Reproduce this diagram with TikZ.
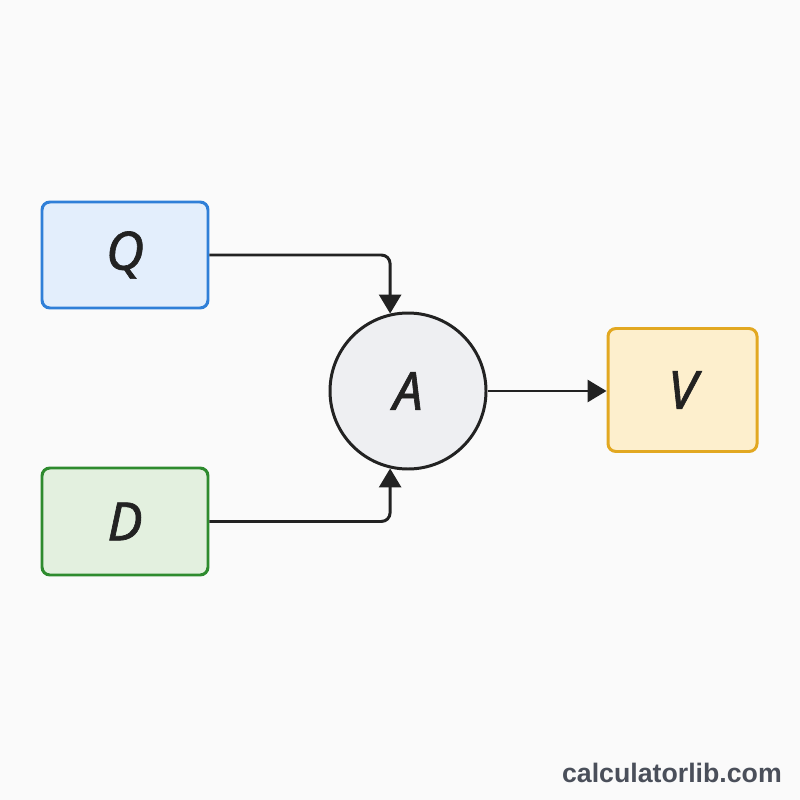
\documentclass[tikz,border=0pt]{standalone}
\usepackage{fontspec}
\setmainfont{Noto Sans}
\newfontfamily\letterfont{Noto Sans}[FakeBold=1.2]
\newfontfamily\markfont{Liberation Sans}
\usepackage{xcolor}
\usetikzlibrary{positioning,arrows.meta,calc}
\definecolor{PageBg}{HTML}{FAFAFA}
\definecolor{QueryBlue}{HTML}{2F7FD8}
\definecolor{QueryFill}{HTML}{E3EEFC}
\definecolor{DocGreen}{HTML}{2E8B2E}
\definecolor{DocFill}{HTML}{E3F0DF}
\definecolor{ValGold}{HTML}{E2A821}
\definecolor{ValFill}{HTML}{FDEFCD}
\definecolor{AttnFill}{HTML}{EEEFF2}
\definecolor{InkDark}{HTML}{222222}
\definecolor{MarkGray}{HTML}{4A4F5A}

\begin{document}
\begin{tikzpicture}[every node/.style={font=\letterfont\fontsize{30}{36}\selectfont\itshape, text=InkDark},
                    box/.style={rounded corners=4.5pt, line width=1.7pt, inner sep=0pt},
                    ar/.style={-{Triangle[length=0.38cm,width=0.44cm]}, line width=1.7pt, InkDark, rounded corners=5pt}]
  \fill[PageBg] (0,0) rectangle (16,-16);
  \useasboundingbox (0,0) rectangle (16,-16);
  \node[box, draw=QueryBlue, fill=QueryFill, minimum width=3.32cm, minimum height=2.12cm]
    (q) at (2.5,-5.1) {Q};
  \node[box, draw=DocGreen, fill=DocFill, minimum width=3.32cm, minimum height=2.14cm]
    (d) at (2.5,-10.43) {D};
  \node[circle, draw=InkDark, fill=AttnFill, line width=1.7pt, minimum size=3.12cm, inner sep=0pt]
    (a) at (8.16,-7.82) {A};
  \node[box, draw=ValGold, fill=ValFill, minimum width=2.98cm, minimum height=2.46cm]
    (v) at (13.65,-7.8) {V};
  \draw[ar] (q.east) -| (a.103);
  \draw[ar] (d.east) -| (a.257);
  \draw[ar] (a.east) -- (a.east -| v.west);
  \node[font=\markfont\bfseries\fontsize{15.2}{18}\selectfont, text=MarkGray, anchor=east]
    (mark) at (15.76,-15.45) {calculatorlib.com};
\end{tikzpicture}
\end{document}
